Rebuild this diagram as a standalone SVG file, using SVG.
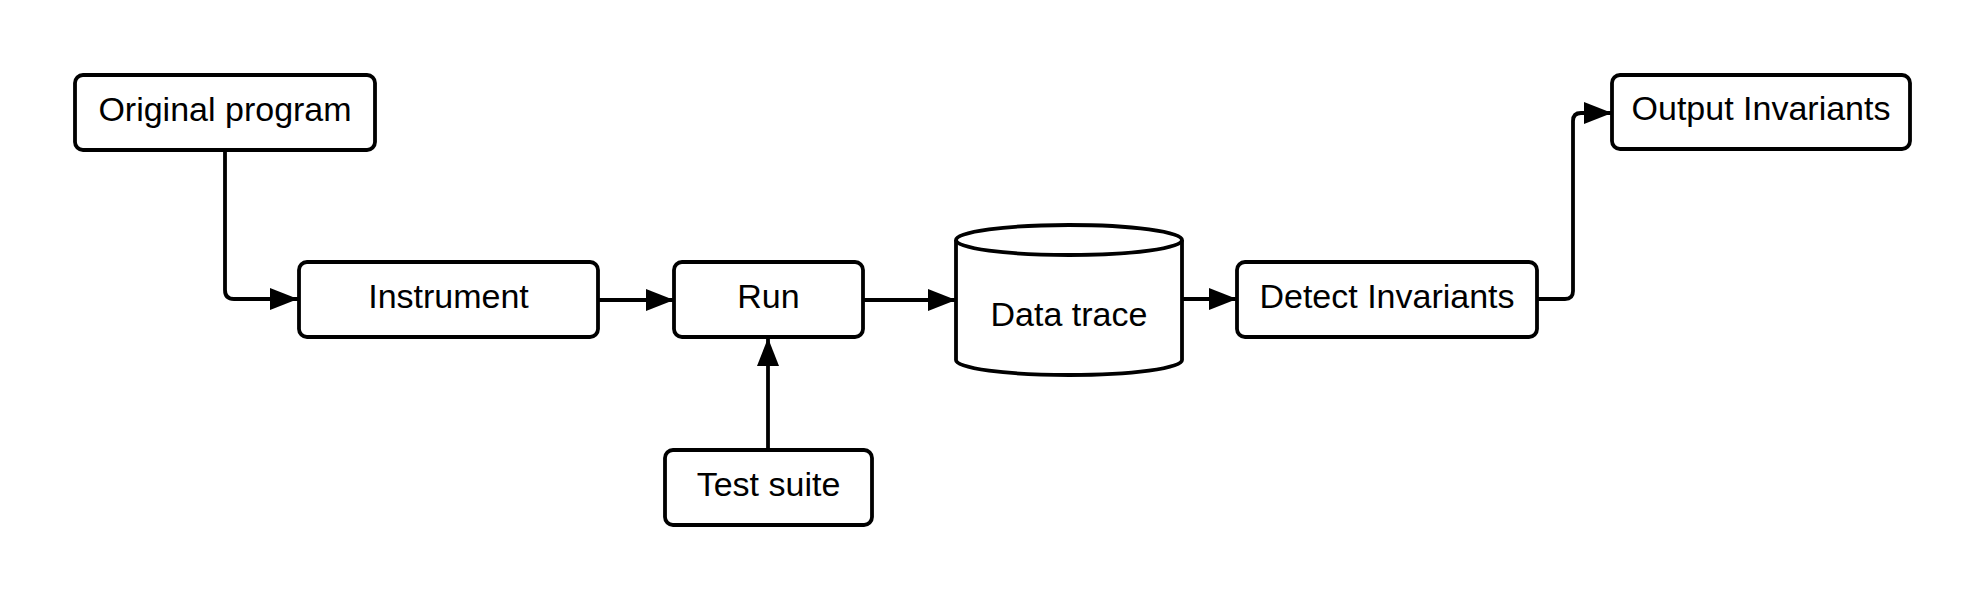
<svg xmlns="http://www.w3.org/2000/svg" width="1988" height="600" viewBox="0 0 1988 600">
<style>
.box{fill:#fff;stroke:#000;stroke-width:3.8}
.lbl{font-family:"Liberation Sans",Arial,sans-serif;font-size:34px;fill:#000;text-anchor:middle}
.conn{fill:none;stroke:#000;stroke-width:3.8;stroke-linejoin:round}
</style>
<defs>
<marker id="arr" viewBox="0 0 28 22" refX="28" refY="11" markerWidth="28" markerHeight="22" markerUnits="userSpaceOnUse" orient="auto">
<path d="M0,0 L28,11 L0,22 Z" fill="#000"/>
</marker>
</defs>
<rect width="1988" height="600" fill="#fff"/>
<g id="connectors">
<path class="conn" d="M225,150 V290 Q225,299 234,299 H298" marker-end="url(#arr)"/>
<path class="conn" d="M598,300 H674" marker-end="url(#arr)"/>
<path class="conn" d="M768,450 V338" marker-end="url(#arr)"/>
<path class="conn" d="M863,300 H956" marker-end="url(#arr)"/>
<path class="conn" d="M1182,299 H1237" marker-end="url(#arr)"/>
<path class="conn" d="M1537,299 H1565 Q1573,299 1573,291 V121 Q1573,113 1581,113 H1612" marker-end="url(#arr)"/>
</g>
<g id="original-program">
<rect class="box" x="75" y="75" width="300" height="75" rx="8"/>
<text class="lbl" x="225" y="121">Original program</text>
</g>
<g id="instrument">
<rect class="box" x="299" y="262" width="299" height="75" rx="8"/>
<text class="lbl" x="448.5" y="308">Instrument</text>
</g>
<g id="run">
<rect class="box" x="674" y="262" width="189" height="75" rx="8"/>
<text class="lbl" x="768.5" y="308">Run</text>
</g>
<g id="test-suite">
<rect class="box" x="665" y="450" width="207" height="75" rx="8"/>
<text class="lbl" x="768.5" y="496">Test suite</text>
</g>
<g id="data-trace">
<path class="box" d="M956,240 V360 A113,15 0 0 0 1182,360 V240 A113,15 0 0 0 956,240 Z"/>
<path class="box" style="fill:none" d="M956,240 A113,15 0 0 0 1182,240"/>
<text class="lbl" x="1069" y="326">Data trace</text>
</g>
<g id="detect-invariants">
<rect class="box" x="1237" y="262" width="300" height="75" rx="8"/>
<text class="lbl" x="1387" y="308">Detect Invariants</text>
</g>
<g id="output-invariants">
<rect class="box" x="1612" y="75" width="298" height="74" rx="8"/>
<text class="lbl" x="1761" y="120">Output Invariants</text>
</g>
</svg>
